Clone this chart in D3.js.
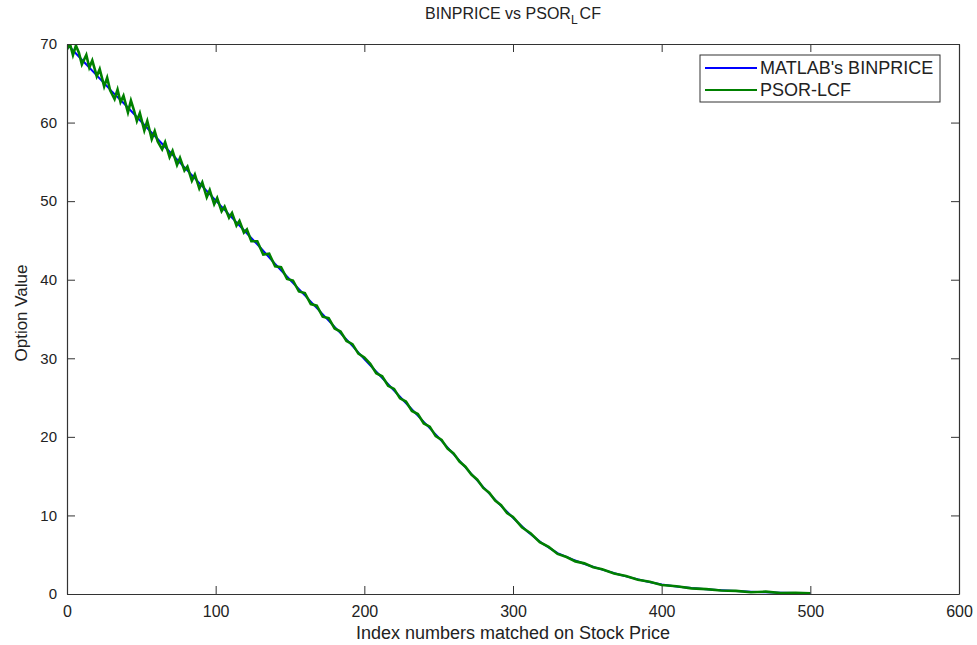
<!DOCTYPE html>
<html>
<head>
<meta charset="utf-8">
<script src="https://cdnjs.cloudflare.com/ajax/libs/d3/7.8.5/d3.min.js"></script>
<style>
	body { margin: 0; background: #fff; }
	text { font-family: "Liberation Sans", Arial, sans-serif; fill: #222; }
</style>
</head>
<body>
<script>
(function () {
	"use strict";

	// MATLAB's BINPRICE, read every 10 index steps
	var binIdx = [0, 10, 20, 30, 40, 50, 60, 70, 80, 90, 100, 110, 120, 130, 140, 150,
		160, 170, 180, 190, 200, 210, 220, 230, 240, 250, 260, 270, 280, 290, 300,
		310, 320, 330, 340, 350, 360, 370, 380, 390, 400, 410, 420, 430, 440, 450,
		460, 470, 480, 490, 500];
	var binVal = [70.0, 68.0, 66.0, 64.0, 62.1, 60.1, 58.1, 56.1, 54.1, 52.1, 50.1,
		48.1, 46.1, 44.1, 42.0, 40.0, 38.0, 36.0, 34.0, 32.0, 29.9, 27.9, 25.9, 23.9,
		21.9, 19.9, 17.8, 15.7, 13.6, 11.6, 9.7, 7.9, 6.4, 5.2, 4.4, 3.7, 3.1, 2.55,
		2.05, 1.6, 1.2, 0.95, 0.75, 0.6, 0.47, 0.37, 0.29, 0.22, 0.17, 0.13, 0.1];

	// PSOR-LCF (zigzags around the binomial price)
	var psorIdx = [0, 2, 4, 6, 8, 10, 13, 15, 17, 20, 22, 25, 27, 29, 32, 34, 36, 38,
		41, 43, 45, 47, 49, 52, 54, 57, 59, 61, 64, 66, 69, 71, 74, 76, 79, 81, 84, 86,
		89, 91, 94, 96, 99, 101, 104, 106, 109, 111, 114, 116, 119, 121, 124, 128, 132,
		136, 140, 144, 148, 152, 156, 160, 164, 168, 172, 176, 180, 184, 188, 192, 196,
		200, 204, 208, 212, 216, 220, 224, 228, 232, 236, 240, 244, 248, 252, 256, 260,
		264, 268, 272, 276, 280, 284, 288, 292, 296, 300, 306, 312, 318, 324, 330, 336,
		342, 348, 354, 360, 368, 376, 384, 392, 400, 410, 420, 430, 440, 450, 460, 470,
		480, 490, 500];
	var psorVal = [69.3, 70.0, 68.6, 69.8, 68.9, 67.4, 68.6, 67.0, 67.9, 65.9, 66.8,
		64.6, 65.7, 64.1, 63.0, 64.2, 62.6, 63.4, 61.3, 62.8, 61.6, 60.2, 61.2, 59.0,
		60.2, 57.9, 58.9, 57.6, 56.6, 57.5, 55.6, 56.4, 54.6, 55.5, 53.9, 54.4, 52.6,
		53.4, 51.6, 52.4, 50.5, 51.4, 49.6, 50.4, 48.7, 49.3, 47.9, 48.5, 46.9, 47.5,
		46.0, 46.4, 44.9, 44.9, 43.2, 43.3, 41.7, 41.6, 40.1, 39.9, 38.5, 38.3, 36.9,
		36.7, 35.3, 35.1, 33.8, 33.4, 32.2, 31.8, 30.6, 30.1, 29.3, 28.1, 27.7, 26.5,
		26.1, 24.9, 24.5, 23.3, 22.9, 21.7, 21.3, 20.1, 19.6, 18.5, 17.9, 16.85, 16.2,
		15.2, 14.55, 13.5, 12.9, 11.9, 11.3, 10.3, 9.8, 8.5, 7.7, 6.6, 6.0, 5.1, 4.7,
		4.15, 3.9, 3.4, 3.15, 2.6, 2.3, 1.8, 1.55, 1.15, 0.98, 0.72, 0.62, 0.44, 0.4,
		0.22, 0.3, 0.12, 0.15, 0.1];

	var xTicks = [0, 100, 200, 300, 400, 500, 600];
	var yTicks = [0, 10, 20, 30, 40, 50, 60, 70];
	var seriesNames = ["MATLAB's BINPRICE", "PSOR-LCF"];
	var seriesColors = ["#0000ff", "#008000"];

	var W = 977, H = 645;
	var m = { top: 44, right: 18, bottom: 51, left: 67 };
	var w = W - m.left - m.right;
	var h = H - m.top - m.bottom;
	var tick = 8;

	var svg = d3.select("body").append("svg")
		.attr("width", W)
		.attr("height", H);

	var g = svg.append("g")
		.attr("transform", "translate(" + m.left + "," + m.top + ")");

	var xScale = d3.scaleLinear().domain([0, 600]).range([0, w]);
	var yScale = d3.scaleLinear().domain([0, 70]).range([h, 0]);

	// lines, clipped to the axes box
	g.append("clipPath").attr("id", "clip")
		.append("rect").attr("width", w).attr("height", h);

	var lineFun = d3.line()
		.x((d) => xScale(d[0]))
		.y((d) => yScale(d[1]));

	var binData = binIdx.map((d, i) => [d, binVal[i]]);
	var psorData = psorIdx.map((d, i) => [d, psorVal[i]]);

	g.append("path")
		.attr("clip-path", "url(#clip)")
		.attr("d", lineFun(binData))
		.attr("fill", "none")
		.attr("stroke", seriesColors[0])
		.attr("stroke-width", 2);

	g.append("path")
		.attr("clip-path", "url(#clip)")
		.attr("d", lineFun(psorData))
		.attr("fill", "none")
		.attr("stroke", seriesColors[1])
		.attr("stroke-width", 2.6)
		.attr("stroke-linejoin", "miter");

	// axes (MATLAB style box with inward ticks on all sides)
	function styleAxis(sel) {
		sel.select(".domain").attr("stroke", "#333").attr("stroke-width", 1.2);
		sel.selectAll(".tick line").attr("stroke", "#333").attr("stroke-width", 1);
	}

	var xAxis = g.append("g")
		.attr("transform", "translate(0," + h + ")")
		.call(d3.axisBottom(xScale).tickValues(xTicks).tickSizeInner(-tick).tickSizeOuter(0).tickPadding(12))
		.call(styleAxis);
	xAxis.selectAll(".tick text")
		.style("font-size", "16px")
		.attr("fill", "#222");

	g.append("g")
		.call(d3.axisTop(xScale).tickValues(xTicks).tickSizeInner(-tick).tickSizeOuter(0).tickFormat(""))
		.call(styleAxis);

	var yAxis = g.append("g")
		.call(d3.axisLeft(yScale).tickValues(yTicks).tickSizeInner(-tick).tickSizeOuter(0).tickPadding(10))
		.call(styleAxis);
	yAxis.selectAll(".tick text")
		.style("font-size", "15px")
		.attr("fill", "#222");

	g.append("g")
		.attr("transform", "translate(" + w + ",0)")
		.call(d3.axisRight(yScale).tickValues(yTicks).tickSizeInner(-tick).tickSizeOuter(0).tickFormat(""))
		.call(styleAxis);

	// title with subscript L
	var title = svg.append("text")
		.attr("x", m.left + w / 2)
		.attr("y", 19)
		.attr("text-anchor", "middle")
		.style("font-size", "16px");
	title.append("tspan").text("BINPRICE vs PSOR");
	title.append("tspan").attr("dy", 5).style("font-size", "12px").text("L");
	title.append("tspan").attr("dy", -5).attr("dx", 2).text("CF");

	svg.append("text")
		.attr("x", m.left + w / 2)
		.attr("y", 639)
		.attr("text-anchor", "middle")
		.style("font-size", "18px")
		.text("Index numbers matched on Stock Price");

	svg.append("text")
		.attr("transform", "translate(27," + (m.top + h / 2 - 6) + ") rotate(-90)")
		.attr("text-anchor", "middle")
		.style("font-size", "17px")
		.text("Option Value");

	// legend
	var lg = svg.append("g").attr("transform", "translate(700,55)");
	lg.append("rect")
		.attr("width", 240)
		.attr("height", 47)
		.attr("fill", "#fff")
		.attr("stroke", "#333")
		.attr("stroke-width", 1);

	var items = lg.selectAll(".item")
		.data(seriesNames)
		.enter().append("g")
		.attr("transform", (d, i) => "translate(0," + (13 + i * 22) + ")");
	items.append("line")
		.attr("x1", 5).attr("x2", 57)
		.attr("stroke", (d, i) => seriesColors[i])
		.attr("stroke-width", 2);
	items.append("text")
		.attr("x", 60)
		.attr("dy", "0.36em")
		.style("font-size", "18px")
		.text((d) => d);
})();
</script>
</body>
</html>
